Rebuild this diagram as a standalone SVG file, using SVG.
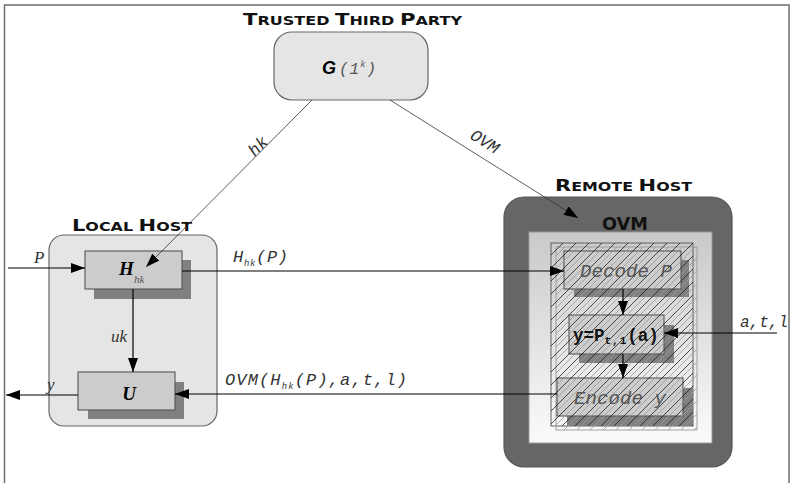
<svg xmlns="http://www.w3.org/2000/svg" width="795" height="483" viewBox="0 0 795 483">
  <style>
    .frame { fill: none; stroke: #6e6e6e; stroke-width: 1.5; }
    .title { font-family: "DejaVu Sans", sans-serif; font-weight: bold; fill: #111; }
    .host { fill: #e5e5e5; stroke: #666; stroke-width: 1.2; }
    .box { fill: #cccccc; stroke: #555; stroke-width: 1.1; }
    .shadow { fill: #808080; }
    .wire { fill: none; stroke: #000; stroke-width: 1.2; }
    .thin { fill: none; stroke: #333; stroke-width: 0.8; }
    .mono { font-family: "Liberation Mono", "DejaVu Sans Mono", monospace; font-style: italic; }
    .serif { font-family: "Liberation Serif", "DejaVu Serif", serif; font-style: italic; }
    .sbold { font-family: "Liberation Serif", "DejaVu Serif", serif; font-style: italic; font-weight: bold; }
  </style>
  <defs>
    <marker id="arrow" viewBox="0 0 14 10" refX="14" refY="5" markerWidth="14" markerHeight="10" markerUnits="userSpaceOnUse" orient="auto">
      <path d="M0,0 L14,5 L0,10 Z" fill="#000"/>
    </marker>
    <linearGradient id="inner" x1="0" y1="0" x2="0" y2="1">
      <stop offset="0" stop-color="#c9c9c9"/>
      <stop offset="1" stop-color="#fbfbfb"/>
    </linearGradient>
    <pattern id="hatchDark" width="13" height="13" patternUnits="userSpaceOnUse">
      <path d="M-1,14 L14,-1 M-4,4 L4,-4 M9,17 L17,9" stroke="#222" stroke-width="0.8"/>
    </pattern>
    <pattern id="hatchLight" width="13" height="13" patternUnits="userSpaceOnUse" x="6">
      <path d="M-1,14 L14,-1 M-4,4 L4,-4 M9,17 L17,9" stroke="#9a9a9a" stroke-width="0.8"/>
    </pattern>
  </defs>

  <!-- page frame -->
  <path class="frame" d="M4.5,483 V5 H789 V483"/>

  <!-- trusted third party -->
  <g id="ttp">
    <text class="title" x="243" y="25" textLength="219" lengthAdjust="spacingAndGlyphs"><tspan font-size="16.5">T</tspan><tspan font-size="12.5">RUSTED </tspan><tspan font-size="16.5">T</tspan><tspan font-size="12.5">HIRD </tspan><tspan font-size="16.5">P</tspan><tspan font-size="12.5">ARTY</tspan></text>
    <rect class="host" x="274" y="32" width="154" height="68" rx="18"/>
    <text x="322" y="74" font-family="Liberation Sans, Arial, sans-serif" font-weight="bold" font-style="italic" font-size="18">G</text>
    <text class="mono" x="339" y="74" font-size="16" fill="#555" letter-spacing="1">(1<tspan font-size="9" dy="-7">k</tspan><tspan dy="7">)</tspan></text>
  </g>

  <!-- local host -->
  <g id="local-host">
    <text class="title" x="72" y="231" textLength="120" lengthAdjust="spacingAndGlyphs"><tspan font-size="16.5">L</tspan><tspan font-size="12.5">OCAL </tspan><tspan font-size="16.5">H</tspan><tspan font-size="12.5">OST</tspan></text>
    <rect class="host" x="49" y="235" width="168" height="191" rx="15"/>
  </g>

  <g id="node-h">
    <rect class="shadow" x="94" y="260" width="97" height="39"/>
    <rect class="box" x="85" y="251" width="97" height="38"/>
    <text class="sbold" x="119" y="275" font-size="19">H</text>
    <text class="serif" x="134" y="283" font-size="11" fill="#555">hk</text>
  </g>

  <g id="node-u">
    <rect class="shadow" x="88" y="382" width="96" height="37"/>
    <rect class="box" x="78" y="372" width="97" height="38"/>
    <text class="sbold" x="129" y="400" font-size="19" text-anchor="middle">U</text>
  </g>

  <!-- remote host -->
  <g id="remote-host">
    <text class="title" x="555" y="191" textLength="137" lengthAdjust="spacingAndGlyphs"><tspan font-size="16.5">R</tspan><tspan font-size="12.5">EMOTE </tspan><tspan font-size="16.5">H</tspan><tspan font-size="12.5">OST</tspan></text>
    <rect x="504" y="197" width="228" height="270" rx="20" fill="#666" stroke="#555" stroke-width="1.2"/>
    <text class="title" x="602" y="230" font-size="18" textLength="46" lengthAdjust="spacingAndGlyphs">OVM</text>
    <rect x="529" y="232" width="183" height="211" fill="url(#inner)" stroke="#999" stroke-width="1"/>
    <rect x="551" y="243" width="142" height="183" fill="none" stroke="#555" stroke-width="0.9"/>
    <rect x="556" y="247" width="141" height="183" fill="none" stroke="#999" stroke-width="0.9"/>
  </g>

  <g id="node-decode">
    <rect class="shadow" x="574" y="260" width="115" height="37"/>
    <rect class="box" x="564" y="251" width="117" height="38"/>
  </g>

  <g id="node-eval">
    <rect class="shadow" x="579" y="325" width="95" height="38"/>
    <rect class="box" x="569" y="315" width="95" height="39"/>
  </g>

  <g id="node-encode">
    <rect class="shadow" x="567" y="388" width="126" height="38"/>
    <rect class="box" x="557" y="378" width="126" height="38"/>
  </g>

  <!-- hatching over the VM core -->
  <g id="vm-hatch">
    <rect x="556" y="247" width="141" height="183" fill="url(#hatchLight)"/>
    <rect x="551" y="243" width="142" height="183" fill="url(#hatchDark)"/>
  </g>

  <g id="vm-labels">
    <text class="mono" x="580" y="277" font-size="19" fill="#555" textLength="92" lengthAdjust="spacing">Decode P</text>
    <text x="573" y="341" font-family="Liberation Mono, monospace" font-weight="bold" font-size="17.5" fill="#111">y=P<tspan font-size="11" dy="3" letter-spacing="1">t,1</tspan><tspan dy="-3">(a)</tspan></text>
    <text class="mono" x="574" y="404" font-size="19" fill="#555" textLength="92" lengthAdjust="spacing">Encode y</text>
  </g>

  <!-- connectors -->
  <g id="connectors">
    <line class="thin" x1="312" y1="100" x2="146" y2="267" marker-end="url(#arrow)"/>
    <line class="thin" x1="390" y1="100" x2="578" y2="218" marker-end="url(#arrow)"/>
    <line class="wire" x1="8" y1="268" x2="85" y2="268" marker-end="url(#arrow)"/>
    <line class="wire" x1="182" y1="271" x2="564" y2="271" marker-end="url(#arrow)"/>
    <line class="wire" x1="133" y1="289" x2="133" y2="372" marker-end="url(#arrow)"/>
    <line class="wire" x1="78" y1="395" x2="6" y2="395" marker-end="url(#arrow)"/>
    <line class="wire" x1="557" y1="394" x2="175" y2="394" marker-end="url(#arrow)"/>
    <line class="wire" x1="623" y1="289" x2="623" y2="315" marker-end="url(#arrow)"/>
    <line class="wire" x1="623" y1="354" x2="623" y2="378" marker-end="url(#arrow)"/>
    <line class="wire" x1="777" y1="333" x2="664" y2="333" marker-end="url(#arrow)"/>

    <text class="mono" font-size="17" fill="#333" transform="translate(262,150) rotate(-45)" text-anchor="middle">hk</text>
    <text class="mono" font-size="17" fill="#333" transform="translate(482,146) rotate(32)" text-anchor="middle">OVM</text>
    <text class="serif" x="34" y="263" font-size="17" fill="#333">P</text>
    <text class="serif" x="111" y="342" font-size="17" fill="#333">uk</text>
    <text class="serif" x="47" y="390" font-size="17" fill="#333">y</text>
    <text class="mono" x="233" y="262" font-size="17" fill="#333" textLength="55" lengthAdjust="spacing">H<tspan font-size="9" dy="4">hk</tspan><tspan dy="-4">(P)</tspan></text>
    <text class="mono" x="225" y="385" font-size="17" fill="#333" textLength="182" lengthAdjust="spacing">OVM(H<tspan font-size="9" dy="4">hk</tspan><tspan dy="-4">(P),a,t,l)</tspan></text>
    <text class="mono" x="740" y="327" font-size="16" fill="#333">a,t,l</text>
  </g>
</svg>
